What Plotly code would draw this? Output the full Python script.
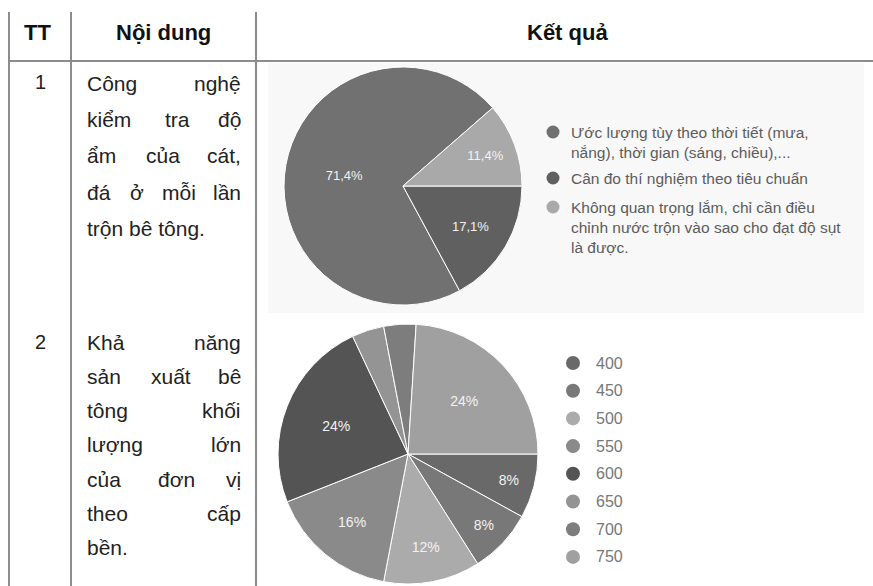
import unicodedata
import plotly.graph_objects as go

W, H = 873, 586

# ---------------- data ----------------
headers = ["TT", "Nội dung", "Kết quả"]
row_numbers = ["1", "2"]
row1_lines = [["Công", "nghệ"], ["kiểm", "tra", "độ"], ["ẩm", "của", "cát,"],
              ["đá", "ở", "mỗi", "lần"], ["trộn bê tông."]]
row2_lines = [["Khả", "năng"], ["sản", "xuất", "bê"], ["tông", "khối"], ["lượng", "lớn"],
              ["của", "đơn", "vị"], ["theo", "cấp"], ["bền."]]

pie1_labels = ["Ước lượng tùy theo thời tiết (mưa, nắng), thời gian (sáng, chiều),...",
               "Cân đo thí nghiệm theo tiêu chuẩn",
               "Không quan trọng lắm, chỉ cần điều chỉnh nước trộn vào sao cho đạt độ sụt là được."]
pie1_legend_lines = [["Ước lượng tùy theo thời tiết (mưa,", "nắng), thời gian (sáng, chiều),..."],
                     ["Cân đo thí nghiệm theo tiêu chuẩn"],
                     ["Không quan trọng lắm, chỉ cần điều", "chỉnh nước trộn vào sao cho đạt độ sụt",
                      "là được."]]
pie1_values = [71.4, 17.1, 11.4]
pie1_colors = ["#717171", "#606060", "#a9a9a9"]

pie2_labels = ["400", "450", "500", "550", "600", "650", "700", "750"]
pie2_values = [8, 8, 12, 16, 24, 4, 4, 24]
pie2_colors = ["#696969", "#787878", "#ababab", "#8a8a8a", "#545454", "#949494", "#7d7d7d", "#a0a0a0"]

FONT = "Liberation Sans"


def px(x):
    return x / W


def py(y):
    return 1 - y / H


def word_width(word, size):
    w = 0.0
    for ch in word:
        base = unicodedata.normalize("NFD", ch)[0]
        if base in "ijl.,'|!":
            w += 0.24
        elif base in "ftr ()":
            w += 0.31
        elif base in "mw":
            w += 0.83
        elif base.isupper():
            w += 0.70
        else:
            w += 0.556
    return w * size


shapes = []
annotations = []

# chart-1 light background
shapes.append(dict(type="rect", xref="paper", yref="paper", x0=px(268), x1=px(864),
                   y0=py(313), y1=py(63), fillcolor="#f8f8f8", line=dict(width=0), layer="below"))

# table lines
LINE = dict(color="#8c8c8c", width=2)
for xv in [9, 71, 256]:
    shapes.append(dict(type="line", xref="paper", yref="paper", x0=px(xv), x1=px(xv),
                       y0=py(12), y1=py(H), line=LINE))
shapes.append(dict(type="line", xref="paper", yref="paper", x0=px(9), x1=px(W),
                   y0=py(61), y1=py(61), line=LINE))

# headers
for text, xc in zip(headers, [37, 163, 567]):
    annotations.append(dict(text=f"<b>{text}</b>", x=px(xc), y=py(32), xref="paper", yref="paper",
                            showarrow=False, xanchor="center", yanchor="middle",
                            font=dict(family=FONT, size=22, color="#111")))

# row numbers
for text, yc in zip(row_numbers, [82, 342]):
    annotations.append(dict(text=text, x=px(40), y=py(yc), xref="paper", yref="paper",
                            showarrow=False, xanchor="center", yanchor="middle",
                            font=dict(family=FONT, size=20, color="#222")))

TXT = 21
X0, X1 = 85, 243


def add_justified(lines, y_start, step):
    for i, words in enumerate(lines):
        yc = y_start + i * step
        last = i == len(lines) - 1
        if len(words) == 1 or last:
            annotations.append(dict(text=" ".join(words), x=px(X0), y=py(yc), xref="paper", yref="paper",
                                    showarrow=False, xanchor="left", yanchor="middle",
                                    font=dict(family=FONT, size=TXT, color="#222")))
            continue
        widths = [word_width(w, TXT) for w in words]
        gap = (X1 - X0 - sum(widths)) / (len(words) - 1)
        x = X0
        for j, (w, ww) in enumerate(zip(words, widths)):
            if j == len(words) - 1:
                annotations.append(dict(text=w, x=px(X1), y=py(yc), xref="paper", yref="paper",
                                        showarrow=False, xanchor="right", yanchor="middle",
                                        font=dict(family=FONT, size=TXT, color="#222")))
            else:
                annotations.append(dict(text=w, x=px(x), y=py(yc), xref="paper", yref="paper",
                                        showarrow=False, xanchor="left", yanchor="middle",
                                        font=dict(family=FONT, size=TXT, color="#222")))
            x += ww + gap


add_justified(row1_lines, 83, 36.5)
add_justified(row2_lines, 342, 34.3)

# legend 1 (manual, circles)
leg1_y = [132, 178, 207]
for color, lines, yc in zip(pie1_colors, pie1_legend_lines, leg1_y):
    r = 6.5
    shapes.append(dict(type="circle", xref="paper", yref="paper", x0=px(553 - r), x1=px(553 + r),
                       y0=py(yc + r), y1=py(yc - r), fillcolor=color, line=dict(width=0)))
    annotations.append(dict(text="<br>".join(lines), x=px(569), y=py(yc - 10), xref="paper", yref="paper",
                            showarrow=False, xanchor="left", yanchor="top", align="left",
                            font=dict(family=FONT, size=15.5, color="#5c5c5c")))

# legend 2
for i, (color, lab) in enumerate(zip(pie2_colors, pie2_labels)):
    yc = 363 + i * 27.7
    r = 7
    shapes.append(dict(type="circle", xref="paper", yref="paper", x0=px(573 - r), x1=px(573 + r),
                       y0=py(yc + r), y1=py(yc - r), fillcolor=color, line=dict(width=0)))
    annotations.append(dict(text=lab, x=px(594), y=py(yc), xref="paper", yref="paper",
                            showarrow=False, xanchor="left", yanchor="middle",
                            font=dict(family=FONT, size=16, color="#777")))

fig = go.Figure()

c1, r1 = (403, 186), 119
fig.add_trace(go.Pie(
    labels=pie1_labels, values=pie1_values, sort=False, direction="counterclockwise",
    rotation=90 + 360 * pie1_values[1] / sum(pie1_values),
    marker=dict(colors=pie1_colors, line=dict(color="white", width=1)),
    texttemplate="%{value:.1f}%", textposition="inside", insidetextorientation="horizontal",
    textfont=dict(family=FONT, size=13, color="#f2f2f2"),
    domain=dict(x=[px(c1[0] - r1), px(c1[0] + r1)], y=[py(c1[1] + r1), py(c1[1] - r1)]),
    showlegend=False, hoverinfo="skip",
))

c2, r2 = (408, 454), 130
fig.add_trace(go.Pie(
    labels=pie2_labels, values=pie2_values, sort=False, direction="clockwise", rotation=90,
    marker=dict(colors=pie2_colors, line=dict(color="white", width=1)),
    text=[f"{v}%" if v >= 5 else "" for v in pie2_values], textinfo="text",
    textposition="inside", insidetextorientation="horizontal",
    textfont=dict(family=FONT, size=14, color="#f2f2f2"),
    domain=dict(x=[px(c2[0] - r2), px(c2[0] + r2)], y=[py(c2[1] + r2), py(c2[1] - r2)]),
    showlegend=False, hoverinfo="skip",
))

fig.update_layout(
    width=W, height=H, margin=dict(l=0, r=0, t=0, b=0),
    paper_bgcolor="white", plot_bgcolor="white",
    separators=",.",
    shapes=shapes, annotations=annotations,
)

fig.write_html("out.html")
